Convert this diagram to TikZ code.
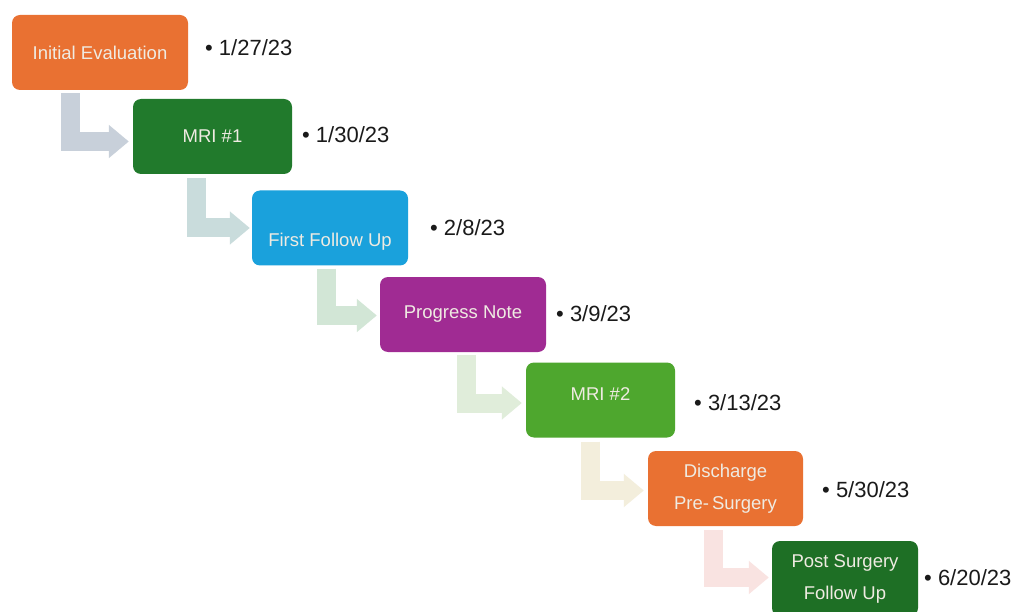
\documentclass[tikz,border=0pt]{standalone}
\usepackage{fontspec}
\setmainfont{Liberation Sans}
\usetikzlibrary{arrows.meta,calc}
\definecolor{corange}{HTML}{E97132}
\definecolor{cdgreen}{HTML}{217A2C}
\definecolor{cblue}{HTML}{1AA1DC}
\definecolor{cpurple}{HTML}{A02B93}
\definecolor{cgreen}{HTML}{4EA72E}
\definecolor{cpgreen}{HTML}{1E6F25}
\definecolor{boxtext}{HTML}{EFEBE2}
\definecolor{datetext}{HTML}{1A1A1A}
\definecolor{aone}{HTML}{C8D0DA}
\definecolor{atwo}{HTML}{C9DCDC}
\definecolor{athree}{HTML}{D2E6D6}
\definecolor{afour}{HTML}{E0EDDA}
\definecolor{afive}{HTML}{F3EEDC}
\definecolor{asix}{HTML}{F9E3E1}
\begin{document}
\begin{tikzpicture}[x=1pt,y=-1pt,
  box/.style={fill=#1, draw=none, rounded corners=8pt, minimum height=75pt,
    text=boxtext, align=center, inner sep=2pt,
    font=\fontsize{18.5}{32}\selectfont},
  datelabel/.style={anchor=west, inner sep=0pt, text=datetext,
    font=\fontsize{22}{24}\selectfont},
  flow/.style={draw=#1, line width=19pt, line join=miter,
    -{Triangle[length=20pt,width=32pt]}}]
\fill[white] (0,0) rectangle (1014,612);
\useasboundingbox (0,0) rectangle (1014,612);

\node[box=corange, minimum width=176pt] (b1) at (100,52.5) {Initial Evaluation};
\node[box=cdgreen, minimum width=159pt] (b2) at (212.5,136.5) {MRI \#1};
\node[box=cblue, minimum width=156pt] (b3) at (330,228) {\smash{\raisebox{-18.5pt}{First Follow Up}}};
\node[box=cpurple, minimum width=166pt] (b4) at (463,314.5) {Progress Note};
\node[box=cgreen, minimum width=149pt] (b5) at (600.5,400) {\smash{\raisebox{0pt}{MRI \#2}}};
\node[box=corange, minimum width=155pt] (b6) at (725.5,488.5) {Discharge\\Pre-\,Surgery};
\node[box=cpgreen, minimum width=146pt] (b7) at (845,578.5) {Post Surgery\\Follow Up};

\node[datelabel] (d1) at (205,48) {• 1/27/23};
\node[datelabel] (d2) at (302,135) {• 1/30/23};
\node[datelabel] (d3) at (430,228) {• 2/8/23};
\node[datelabel] (d4) at (556,314) {• 3/9/23};
\node[datelabel] (d5) at (694,403) {• 3/13/23};
\node[datelabel] (d6) at (822,490) {• 5/30/23};
\node[datelabel] (d7) at (924,578) {• 6/20/23};

\draw[flow=aone]   ($(b1.south west)+(59,3)$) |- ($(b2.west)+(-4,5)$);
\draw[flow=atwo]   ($(b2.south west)+(64,4)$) |- ($(b3.west)+(-2,0)$);
\draw[flow=athree] ($(b3.south west)+(75,3)$) |- ($(b4.west)+(-3,1)$);
\draw[flow=afour]  ($(b4.south west)+(87,3)$) |- ($(b5.west)+(-4,3)$);
\draw[flow=afive]  ($(b5.south west)+(65,4)$) |- ($(b6.west)+(-4,2)$);
\draw[flow=asix]   ($(b6.south west)+(66,4)$) |- ($(b7.west)+(-3,-1)$);
\end{tikzpicture}
\end{document}
